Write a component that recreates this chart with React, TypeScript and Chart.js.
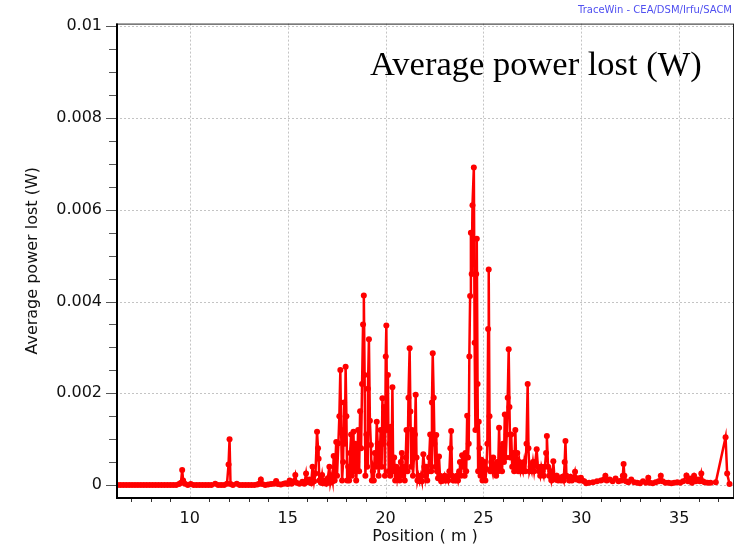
import React, { useEffect, useRef } from 'react';
import { Chart, registerables } from 'chart.js';

Chart.register(...registerables);

// [position (m), average power lost (W)]
const upstreamSection: [number, number][] = [
  [6.3, 0], [6.45, 0], [6.6, 0], [6.75, 0], [6.9, 0], [7.05, 0], [7.2, 0], [7.35, 0], [7.5, 0],
  [7.65, 0], [7.8, 0], [7.95, 0], [8.1, 0], [8.25, 0], [8.4, 0], [8.55, 0], [8.7, 0], [8.85, 0],
  [9.0, 0], [9.15, 0], [9.3, 0], [9.45, 0.00002], [9.55, 0.00005], [9.61, 0.00033], [9.66, 0.0001],
  [9.75, 0.00003], [9.9, 0], [10.05, 0.00002], [10.2, 0], [10.35, 0], [10.5, 0], [10.65, 0],
  [10.8, 0], [10.95, 0], [11.1, 0], [11.3, 0.00003], [11.45, 0], [11.6, 0], [11.75, 0],
  [11.9, 0.00003], [11.98, 0.00045], [12.03, 0.001], [12.08, 0.00002], [12.2, 0], [12.4, 0.00003],
  [12.55, 0], [12.7, 0], [12.85, 0], [13.0, 0], [13.15, 0], [13.3, 0], [13.45, 0.00001],
  [13.55, 0.00003], [13.63, 0.00012], [13.7, 0.00002], [13.85, 0], [14.0, 0.00001], [14.15, 0.00002],
  [14.3, 0.00003], [14.41, 0.00009], [14.5, 0.00002], [14.65, 0.00001], [14.8, 0.00003],
  [14.9, 0.00004], [15.0, 0.00002], [15.1, 0.0001], [15.2, 0.00003], [15.3, 0.00008],
  [15.39, 0.00022], [15.45, 0.00005], [15.6, 0.00003], [15.75, 0.00007], [15.85, 0.00003],
  [15.94, 0.00025],
];

const coreSection: [number, number][] = [
  [16.0, 0.00006], [16.1, 0.00012], [16.2, 0.00004], [16.27, 0.0004], [16.35, 0.00008],
  [16.42, 0.00025], [16.5, 0.00116], [16.55, 0.0008], [16.58, 0.00057], [16.62, 0.0001],
  [16.7, 0.00005], [16.76, 0.00022], [16.82, 0.00004], [16.9, 0.0001], [16.97, 0.00003],
  [17.05, 0.00015], [17.13, 0.0004], [17.18, 0.00005], [17.25, 0.0002], [17.3, 0.00008],
  [17.35, 0.00063], [17.4, 0.0001], [17.48, 0.00094], [17.52, 0.0002], [17.59, 0.00091],
  [17.64, 0.0015], [17.69, 0.00251], [17.73, 0.0012], [17.78, 0.0001], [17.83, 0.0005],
  [17.88, 0.0018], [17.92, 0.0009], [17.96, 0.00258], [18.0, 0.0015], [18.04, 0.0001],
  [18.09, 0.0004], [18.14, 0.0001], [18.19, 0.0007], [18.24, 0.0011], [18.28, 0.0002],
  [18.32, 0.0008], [18.36, 0.00116], [18.4, 0.0003], [18.45, 0.0009], [18.5, 0.0001],
  [18.55, 0.0005], [18.6, 0.0012], [18.65, 0.0003], [18.7, 0.00161], [18.75, 0.0008],
  [18.8, 0.0022], [18.85, 0.0035], [18.89, 0.00413], [18.93, 0.0024], [18.97, 0.0002],
  [19.02, 0.0011], [19.06, 0.0004], [19.1, 0.0021], [19.15, 0.00318], [19.2, 0.0014],
  [19.25, 0.00087], [19.3, 0.0001], [19.35, 0.0003], [19.4, 0.0001], [19.45, 0.0007],
  [19.5, 0.0004], [19.55, 0.00138], [19.6, 0.0009], [19.65, 0.0002], [19.7, 0.0006],
  [19.75, 0.0012], [19.8, 0.0004], [19.84, 0.00189], [19.88, 0.0009], [19.92, 0.0017],
  [19.97, 0.0002], [20.01, 0.0028], [20.04, 0.00348], [20.08, 0.0012], [20.12, 0.0024],
  [20.16, 0.0003], [20.2, 0.0009], [20.24, 0.0002], [20.27, 0.00127], [20.31, 0.0005],
  [20.35, 0.00213], [20.39, 0.0003], [20.44, 0.0006], [20.49, 0.0001], [20.54, 0.0004],
  [20.6, 0.00015], [20.66, 0.0003], [20.72, 0.0001], [20.78, 0.0005], [20.83, 0.0007],
  [20.88, 0.0002], [20.93, 0.0004], [20.98, 0.0001], [21.03, 0.0006], [21.07, 0.0012],
  [21.12, 0.0003], [21.17, 0.0019], [21.23, 0.00298], [21.27, 0.0016], [21.31, 0.0004],
  [21.36, 0.0012], [21.4, 0.0002], [21.45, 0.0006], [21.5, 0.0011], [21.54, 0.00197],
  [21.58, 0.0006], [21.63, 0.0001], [21.68, 0.0002], [21.74, 0.00008], [21.8, 0.0002],
  [21.86, 0.00008], [21.93, 0.00067], [21.98, 0.0004], [22.03, 0.0002], [22.08, 0.0004],
  [22.13, 0.0001], [22.18, 0.0003], [22.23, 0.0006], [22.28, 0.0011], [22.33, 0.0003],
  [22.37, 0.0018], [22.41, 0.00287], [22.46, 0.0019], [22.5, 0.0009], [22.55, 0.0004],
  [22.59, 0.00109], [22.63, 0.0003], [22.68, 0.00015], [22.73, 0.00062], [22.78, 0.0002],
  [22.84, 0.00008], [22.9, 0.00015], [22.96, 0.0001], [23.02, 0.0002], [23.08, 0.0001],
  [23.14, 0.00018], [23.2, 0.0001], [23.26, 0.0003], [23.31, 0.0008], [23.35, 0.00118],
  [23.4, 0.0002], [23.46, 0.0001], [23.52, 0.00015], [23.58, 0.0001], [23.64, 0.0002],
  [23.7, 0.0001], [23.76, 0.0003], [23.8, 0.0005], [23.85, 0.0002], [23.91, 0.00065],
  [23.96, 0.0004], [24.0, 0.0006], [24.04, 0.0002], [24.08, 0.0007], [24.12, 0.0003],
  [24.17, 0.00151], [24.21, 0.0006], [24.25, 0.0009], [24.28, 0.0028], [24.32, 0.00412],
  [24.36, 0.0055], [24.4, 0.0046], [24.44, 0.0061], [24.51, 0.00692], [24.55, 0.0031],
  [24.59, 0.0012], [24.63, 0.0046], [24.66, 0.00537], [24.7, 0.0022], [24.73, 0.0003],
  [24.76, 0.00138], [24.8, 0.0008], [24.85, 0.0002], [24.9, 0.00055], [24.95, 0.0001],
  [25.0, 0.0003], [25.05, 0.0005], [25.1, 0.0001], [25.15, 0.00035], [25.2, 0.0009],
  [25.24, 0.0034], [25.27, 0.0047], [25.31, 0.0015], [25.35, 0.0003], [25.4, 0.0005],
  [25.45, 0.00035], [25.5, 0.0006], [25.55, 0.0003], [25.6, 0.0004], [25.65, 0.0002],
  [25.7, 0.0005], [25.75, 0.0003], [25.8, 0.00125], [25.85, 0.0004], [25.9, 0.0008],
  [25.95, 0.0003], [26.0, 0.0009], [26.05, 0.0005], [26.09, 0.00154], [26.14, 0.0006],
  [26.19, 0.0011], [26.24, 0.0019], [26.29, 0.00296], [26.33, 0.0017], [26.37, 0.0006],
  [26.42, 0.0011], [26.47, 0.0004], [26.52, 0.0007], [26.57, 0.0003], [26.63, 0.0012],
  [26.68, 0.0004], [26.73, 0.0007], [26.78, 0.0003], [26.84, 0.0005], [26.9, 0.0003],
  [26.96, 0.0004], [27.02, 0.0003], [27.08, 0.0005], [27.14, 0.0003], [27.2, 0.0009],
  [27.26, 0.0022], [27.3, 0.0008], [27.35, 0.0003], [27.41, 0.0004], [27.47, 0.0003],
  [27.53, 0.0005], [27.59, 0.0003], [27.65, 0.0005], [27.72, 0.00078], [27.78, 0.0004],
  [27.84, 0.0003], [27.9, 0.0002], [27.96, 0.0004], [28.02, 0.0003], [28.08, 0.0002],
  [28.14, 0.0004], [28.2, 0.0007], [28.24, 0.00107], [28.3, 0.0004], [28.36, 0.0002],
  [28.42, 0.0003], [28.48, 0.0001], [28.53, 0.0002], [28.57, 0.00052], [28.62, 0.0002],
  [28.68, 0.00012], [28.75, 0.0002], [28.82, 0.0001], [28.9, 0.00015], [28.97, 0.0001],
  [29.04, 0.00018], [29.1, 0.0001], [29.15, 0.0005], [29.19, 0.00096], [29.24, 0.0002],
  [29.3, 0.00018], [29.38, 0.0001], [29.45, 0.00018], [29.52, 0.0001], [29.6, 0.00015],
  [29.68, 0.00029], [29.75, 0.00012], [29.82, 0.00015], [29.9, 0.0001], [29.98, 0.00016],
  [30.05, 0.0001], [30.15, 0.00008], [30.25, 0.00004],
];

const downstreamSection: [number, number][] = [
  [30.4, 0.00005], [30.6, 0.00006], [30.8, 0.00008], [31.0, 0.0001], [31.15, 0.00012],
  [31.23, 0.0002], [31.3, 0.0001], [31.45, 0.00012], [31.6, 0.00008], [31.75, 0.00014],
  [31.9, 0.00008], [32.05, 0.0001], [32.12, 0.0002], [32.16, 0.00046], [32.2, 0.0002],
  [32.28, 0.00008], [32.4, 0.00006], [32.55, 0.00012], [32.7, 0.00006], [32.85, 0.00005],
  [33.0, 0.00004], [33.15, 0.00008], [33.3, 0.00005], [33.42, 0.00016], [33.5, 0.00005],
  [33.65, 0.00004], [33.8, 0.00006], [33.95, 0.00008], [34.06, 0.0002], [34.15, 0.00008],
  [34.3, 0.00005], [34.45, 0.00005], [34.6, 0.00004], [34.75, 0.00005], [34.9, 0.00006],
  [35.05, 0.00005], [35.2, 0.00008], [35.37, 0.00021], [35.45, 0.00008], [35.55, 0.00014],
  [35.65, 0.00005], [35.76, 0.0002], [35.85, 0.00008], [35.95, 0.00012], [36.05, 0.00008],
  [36.13, 0.00025], [36.2, 0.00008], [36.3, 0.00006], [36.45, 0.00005], [36.6, 0.00005],
  [36.87, 0.00006], [37.37, 0.00104], [37.45, 0.00025], [37.57, 0.00002],
];

const yMajorTicks = [0, 0.002, 0.004, 0.006, 0.008, 0.01];
const yTickLabels = ['0', '0.002', '0.004', '0.006', '0.008', '0.01'];
const yMinorTicks = [0.0005, 0.001, 0.0015, 0.0025, 0.003, 0.0035, 0.0045, 0.005, 0.0055, 0.0065, 0.007, 0.0075, 0.0085, 0.009, 0.0095];
const xMajorTicks = [10, 15, 20, 25, 30, 35];
const xTickLabels = ['10', '15', '20', '25', '30', '35'];
const xMinorTicks = [7, 8, 9, 11, 12, 13, 14, 16, 17, 18, 19, 21, 22, 23, 24, 26, 27, 28, 29, 31, 32, 33, 34, 36, 37];

const X_MIN = 6.23;
const X_MAX = 37.8;
const Y_MIN = -0.000283;
const Y_MAX = 0.010059;

const SANS = "'DejaVu Sans', Verdana, sans-serif";

const decorPlugin = {
  id: 'decor',
  beforeDatasetsDraw(chart: any) {
    const { ctx, chartArea, scales } = chart;
    const { left, right, top, bottom } = chartArea;
    ctx.save();
    ctx.strokeStyle = '#c4c4c4';
    ctx.lineWidth = 1;
    ctx.setLineDash([2, 2]);
    for (const v of xMajorTicks) {
      const x = Math.round(scales.x.getPixelForValue(v)) + 0.5;
      ctx.beginPath();
      ctx.moveTo(x, top);
      ctx.lineTo(x, bottom);
      ctx.stroke();
    }
    for (const v of yMajorTicks) {
      const y = Math.round(scales.y.getPixelForValue(v)) + 0.5;
      ctx.beginPath();
      ctx.moveTo(left, y);
      ctx.lineTo(right, y);
      ctx.stroke();
    }
    ctx.restore();
  },
  afterDraw(chart: any) {
    const { ctx, chartArea, scales } = chart;
    const { left, right, top, bottom } = chartArea;
    ctx.save();
    ctx.setLineDash([]);
    ctx.strokeStyle = '#555';
    ctx.lineWidth = 1;
    for (const v of yMajorTicks) {
      const y = Math.round(scales.y.getPixelForValue(v)) + 0.5;
      ctx.beginPath();
      ctx.moveTo(left - 10, y);
      ctx.lineTo(left, y);
      ctx.stroke();
    }
    for (const v of yMinorTicks) {
      const y = Math.round(scales.y.getPixelForValue(v)) + 0.5;
      ctx.beginPath();
      ctx.moveTo(left - 7, y);
      ctx.lineTo(left, y);
      ctx.stroke();
    }
    ctx.strokeStyle = '#333';
    for (const v of xMinorTicks) {
      const x = Math.round(scales.x.getPixelForValue(v)) + 0.5;
      ctx.beginPath();
      ctx.moveTo(x, bottom);
      ctx.lineTo(x, bottom + 4);
      ctx.stroke();
    }
    ctx.strokeStyle = '#222';
    ctx.lineWidth = 1;
    ctx.strokeRect(left + 0.5, top + 0.5, right - left - 1, bottom - top - 1);
    ctx.strokeStyle = '#000';
    ctx.lineWidth = 2;
    ctx.beginPath();
    ctx.moveTo(left + 1, top);
    ctx.lineTo(left + 1, bottom);
    ctx.lineTo(right, bottom);
    ctx.stroke();
    ctx.fillStyle = '#000';
    ctx.font = "34.5px 'Liberation Serif', 'Times New Roman', serif";
    ctx.textAlign = 'left';
    ctx.textBaseline = 'alphabetic';
    ctx.fillText('Average power lost (W)', 370, 75);
    ctx.fillStyle = '#5050f0';
    ctx.font = `10px ${SANS}`;
    ctx.textAlign = 'right';
    ctx.textBaseline = 'middle';
    ctx.fillText('TraceWin - CEA/DSM/Irfu/SACM', 732, 10);
    ctx.restore();
  },
};

export default function App() {
  const canvasRef = useRef<HTMLCanvasElement | null>(null);

  useEffect(() => {
    document.body.style.margin = '0';
    const canvas = canvasRef.current;
    if (!canvas) return;
    const points = [...upstreamSection, ...coreSection, ...downstreamSection].map(([x, y]) => ({ x, y }));
    const chart = new Chart(canvas, {
      type: 'line',
      data: {
        datasets: [
          {
            data: points,
            borderColor: '#ff0000',
            backgroundColor: '#ff0000',
            borderWidth: 2.5,
            pointRadius: 3,
            pointBorderWidth: 0,
            pointBackgroundColor: '#ff0000',
            tension: 0,
            fill: false,
          },
        ],
      },
      options: {
        animation: false,
        responsive: false,
        maintainAspectRatio: false,
        layout: { padding: { top: 23, right: 2, left: 0, bottom: 0 } },
        plugins: {
          legend: { display: false },
          tooltip: { enabled: false },
          title: { display: false },
        },
        scales: {
          x: {
            type: 'linear',
            min: X_MIN,
            max: X_MAX,
            afterFit: (s: any) => {
              s.height = 52;
            },
            afterBuildTicks: (s: any) => {
              s.ticks = xMajorTicks.map((v) => ({ value: v }));
            },
            ticks: {
              autoSkip: false,
              maxRotation: 0,
              padding: 11,
              color: '#111',
              font: { family: SANS, size: 16 },
              callback: (_v: any, i: number) => xTickLabels[i],
            },
            grid: { display: false, drawTicks: false },
            border: { display: false },
            title: {
              display: true,
              text: 'Position ( m )',
              color: '#111',
              font: { family: SANS, size: 16 },
              padding: { top: 4, bottom: 4 },
            },
          },
          y: {
            type: 'linear',
            min: Y_MIN,
            max: Y_MAX,
            afterFit: (s: any) => {
              s.width = 116;
            },
            afterBuildTicks: (s: any) => {
              s.ticks = yMajorTicks.map((v) => ({ value: v }));
            },
            ticks: {
              autoSkip: false,
              padding: 14,
              color: '#111',
              font: { family: SANS, size: 16 },
              callback: (_v: any, i: number) => yTickLabels[i],
            },
            grid: { display: false, drawTicks: false },
            border: { display: false },
            title: {
              display: true,
              text: 'Average power lost (W)',
              color: '#111',
              font: { family: SANS, size: 16 },
              padding: { top: 23, bottom: 0 },
            },
          },
        },
      },
      plugins: [decorPlugin],
    } as any);
    return () => chart.destroy();
  }, []);

  return (
    <div style={{ position: 'absolute', left: 0, top: 0, width: 738, height: 550, background: '#fff' }}>
      <canvas ref={canvasRef} width={738} height={550} style={{ display: 'block' }} />
    </div>
  );
}
